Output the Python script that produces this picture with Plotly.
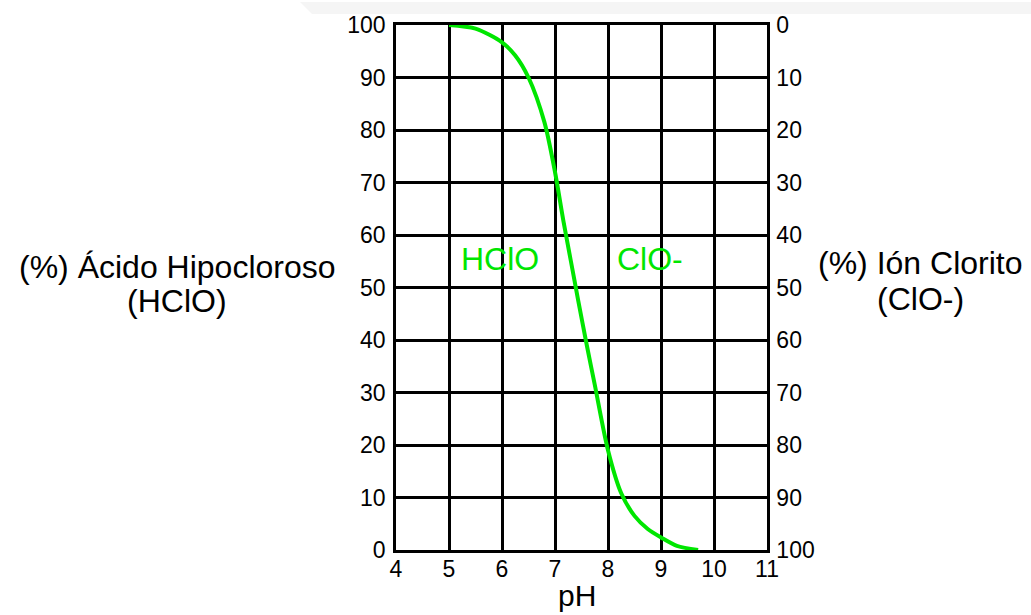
import plotly.graph_objects as go

# Data
ph = [5.0, 5.5, 6.0, 6.25, 6.5, 6.8, 7.0, 7.16, 7.3, 7.44, 7.6, 7.75, 8.0, 8.25, 8.5, 8.75, 9.0, 9.3, 9.7]
hclo_pct = [100, 99.3, 96.7, 94.2, 90, 81.5, 72, 62.6, 55, 47.4, 39, 31.5, 19, 10.8, 6.5, 4.0, 2.4, 0.8, 0]
clo_pct = [100 - v for v in hclo_pct]

x_ticks = [4, 5, 6, 7, 8, 9, 10, 11]
y_ticks = [0, 10, 20, 30, 40, 50, 60, 70, 80, 90, 100]

W, H = 1031, 615
L, R, T, B = 396, 767, 23, 550
FONT = "Liberation Sans, Arial, sans-serif"
GREEN = "#00e600"


def px(xp):
    return (xp - L) / (R - L)


def py(yp):
    return (B - yp) / (B - T)


fig = go.Figure()
fig.add_trace(go.Scatter(x=ph, y=hclo_pct, mode="lines", line=dict(color=GREEN, width=4, shape="spline", smoothing=0.8),
                         hoverinfo="skip", showlegend=False))
fig.add_trace(go.Scatter(x=ph, y=clo_pct, yaxis="y2", mode="lines", line=dict(color="rgba(0,0,0,0)", width=0),
                         hoverinfo="skip", showlegend=False))

axis_common = dict(showline=True, linecolor="black", linewidth=2.5, ticks="",
                   tickfont=dict(family=FONT, size=23, color="black"), zeroline=False)

fig.update_layout(
    width=W, height=H,
    margin=dict(l=L, r=W - R, t=T, b=H - B, pad=0),
    paper_bgcolor="white", plot_bgcolor="white",
    xaxis=dict(range=[4, 11], tickvals=x_ticks, showgrid=True, gridcolor="black", gridwidth=2.5,
               mirror=True, ticklabelstandoff=-3, **axis_common),
    yaxis=dict(range=[0, 100], tickvals=y_ticks, showgrid=True, gridcolor="black", gridwidth=2.5,
               ticklabelstandoff=3, **axis_common),
    yaxis2=dict(range=[100, 0], tickvals=y_ticks, overlaying="y", side="right", showgrid=False,
                ticklabelstandoff=2, **axis_common),
)

ann_font = dict(family=FONT, size=32, color="black")
anns = [
    ("(%) Ácido Hipocloroso", 177, 266, ann_font),
    ("(HClO)", 177, 300, ann_font),
    ("(%) Ión Clorito", 920, 262, ann_font),
    ("(ClO-)", 920, 298, ann_font),
    ("pH", 577, 596, dict(family=FONT, size=30, color="black")),
    ("HClO", 500, 258, dict(family=FONT, size=32, color=GREEN)),
    ("ClO-", 650, 258, dict(family=FONT, size=32, color=GREEN)),
]
for text, xp, yp, f in anns:
    fig.add_annotation(text=text, x=px(xp), y=py(yp), xref="paper", yref="paper",
                       showarrow=False, font=f, xanchor="center", yanchor="middle")

# faint header band at top of the original image
fig.add_shape(type="path", xref="paper", yref="paper", layer="below",
              path=f"M {px(300)} {py(0)} L {px(1031)} {py(0)} L {px(1031)} {py(12)} L {px(312)} {py(12)} Z",
              fillcolor="#f5f5f5", line=dict(width=0))

fig.write_html("out.html", config={"displayModeBar": False},
               post_script="document.body.style.margin='0px';document.body.style.overflow='hidden';")
